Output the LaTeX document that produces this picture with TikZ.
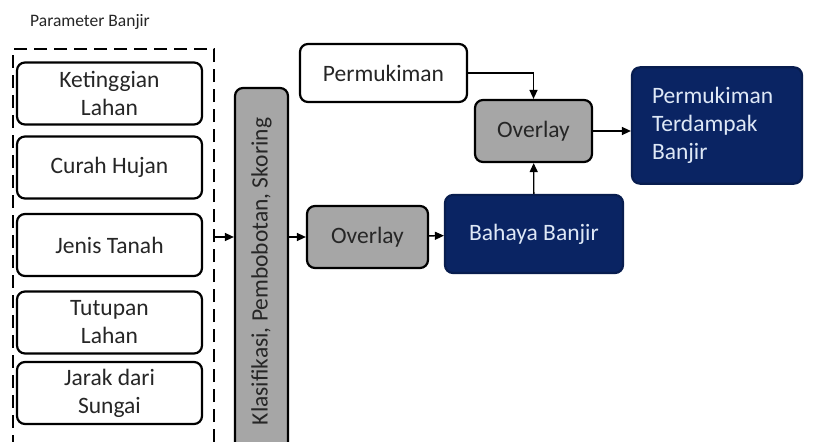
\documentclass[tikz,border=0pt]{standalone}
\usepackage{fontspec}
\setmainfont{Carlito}
\usetikzlibrary{arrows.meta, positioning, calc}
\definecolor{navy}{RGB}{10,36,99}
\definecolor{paleblue}{RGB}{222,232,246}
\definecolor{midgrey}{RGB}{166,166,166}
\definecolor{ink}{RGB}{38,38,38}

\begin{document}
\begin{tikzpicture}[
  x=1pt, y=-1pt,
  param/.style={draw=black, line width=2.2pt, rounded corners=8pt, fill=white, text=ink,
                font=\fontsize{23.5}{28}\selectfont, minimum width=185pt, minimum height=62pt,
                align=center, inner sep=2pt},
  grey/.style={param, fill=midgrey},
  dark/.style={param, fill=navy, draw=navy!80!black, text=paleblue},
  frame/.style={draw=black, line width=2.2pt, dash pattern=on 13pt off 7pt},
  arrow/.style={-{Triangle[length=9pt, width=8pt]}, line width=1.4pt, black},
]
  \clip (0,0) rectangle (823,442);
  \fill[white] (0,0) rectangle (823,442);

  % input parameters
  \node[font=\fontsize{17.5}{20}\selectfont, text=ink] (title) at (90,22) {Parameter Banjir};
  \node[frame, minimum width=201pt, minimum height=412pt, anchor=north west] (group) at (12,48) {};
  \node[param] (tinggi) at (109.5,93.5) {Ketinggian\\Lahan};
  \node[param] (hujan) at (109.5,167.5) {Curah Hujan};
  \node[param] (tanah) at (109.5,245) {Jenis Tanah};
  \node[param] (tutupan) at (109.5,322.5) {Tutupan\\Lahan};
  \node[param] (sungai) at (109.5,393) {Jarak dari\\Sungai};

  % processing
  \node[grey, minimum width=53pt, minimum height=367pt] (skor) at (261.5,271.5)
       {\rotatebox{90}{Klasifikasi, Pembobotan, Skoring}};
  \node[grey, minimum width=121pt] (overlayA) at (367.5,237) {Overlay};
  \node[dark, minimum width=178pt, minimum height=78pt] (bahaya) at (534,234) {Bahaya Banjir};
  \node[param, minimum width=167pt, minimum height=58pt] (mukim) at (383.5,73) {Permukiman};
  \node[grey, minimum width=117pt] (overlayB) at (533.5,131) {Overlay};
  \node[dark, minimum width=170pt, minimum height=105pt, text width=130pt, align=left,
        inner sep=20pt] (hasil) at (717,125.5) {Permukiman\\Terdampak\\Banjir};

  \draw[arrow] (group.east |- overlayA) -- (overlayA -| skor.west);
  \draw[arrow] (overlayA -| skor.east) -- (overlayA);
  \draw[arrow] (overlayA) -- (bahaya);
  \draw[arrow] (bahaya) -- (overlayB);
  \draw[arrow] (mukim.east) -| (overlayB.north);
  \draw[arrow] (overlayB.east) -- (overlayB -| hasil.west);
\end{tikzpicture}
\end{document}
